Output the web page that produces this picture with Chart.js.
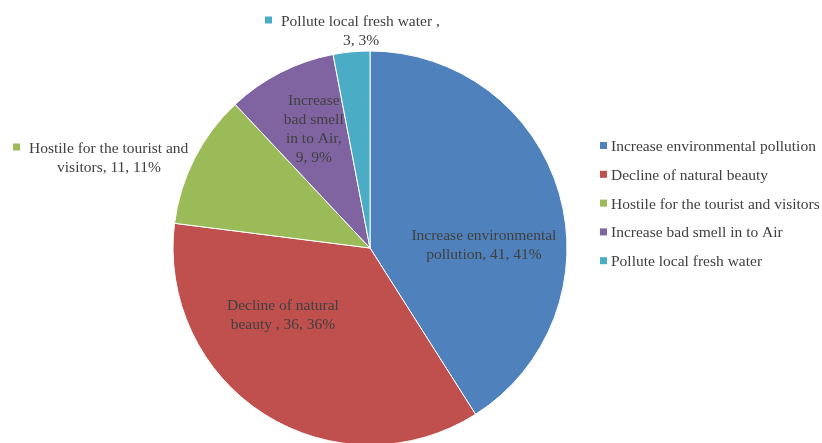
<!DOCTYPE html>
<html>
<head>
<meta charset="utf-8">
<script src="https://cdn.jsdelivr.net/npm/chart.js@4"></script>
<style>
  html, body { margin: 0; padding: 0; background: #fff; }
  #wrap { width: 822px; height: 443px; position: relative; }
</style>
</head>
<body>
<div id="wrap"><canvas id="pieChart" width="822" height="443"></canvas></div>
<script>
const categories = ['Increase environmental pollution', 'Decline of natural beauty', 'Hostile for the tourist and visitors', 'Increase bad smell in to Air', 'Pollute local fresh water'];
const values = [41, 36, 11, 9, 3];
const percents = ['41%', '36%', '11%', '9%', '3%'];
const colours = ['#4F81BD', '#C0504D', '#9BBB59', '#8064A2', '#4BACC6'];

// label lines as they are wrapped in the picture
const labelLines = [
    ['Increase environmental', 'pollution, 41, 41%'],
    ['Decline of natural', 'beauty , 36, 36%'],
    ['Hostile for the tourist and', 'visitors, 11, 11%'],
    ['Increase', 'bad smell', 'in to Air,', '9, 9%'],
    ['Pollute local fresh water ,', '3, 3%']
];

const FONT = '15.5px "Liberation Serif", "Times New Roman", serif';
const TXT = '#404040';
const LH = 19;
const DY = 1.5; // nudge so 'middle' text sits like the reference

const labelsPlugin = {
    id: 'pieLabels',
    afterDatasetsDraw(chart) {
        const ctx = chart.ctx;
        const arcs = chart.getDatasetMeta(0).data;
        ctx.save();
        ctx.font = FONT;
        ctx.fillStyle = TXT;
        ctx.textBaseline = 'middle';
        // inside labels: distance from centre and angle (deg) of the label block
        const inside = {0: [114, -2.3], 1: [109, 143], 3: [133, 245]};
        ctx.textAlign = 'center';
        Object.keys(inside).forEach(k => {
            const i = +k;
            const a = arcs[i];
            const ang = inside[k][1] * Math.PI / 180;
            const cx = a.x + Math.cos(ang) * inside[k][0];
            const cy = a.y + Math.sin(ang) * inside[k][0];
            const n = labelLines[i].length;
            labelLines[i].forEach((t, j) => {
                ctx.fillText(t, cx, cy + DY + (j - (n - 1) / 2) * LH);
            });
        });
        // outside labels with small colour key
        const outside = [
            {i: 2, x: 29, y: 147, cx: 109},
            {i: 4, x: 281, y: 20, cx: 361}
        ];
        outside.forEach(o => {
            const lines = labelLines[o.i];
            ctx.fillStyle = colours[o.i];
            ctx.fillRect(o.x - 16, o.y - 3.5, 7, 7);
            ctx.fillStyle = TXT;
            ctx.textAlign = 'left';
            ctx.fillText(lines[0], o.x, o.y + DY);
            ctx.textAlign = 'center';
            ctx.fillText(lines[1], o.cx, o.y + DY + LH);
        });
        // legend at right
        ctx.textAlign = 'left';
        categories.forEach((c, i) => {
            const y = 145.5 + i * 28.8;
            ctx.fillStyle = colours[i];
            ctx.fillRect(600, y - 3.5, 7, 7);
            ctx.fillStyle = TXT;
            ctx.fillText(c, 611, y + DY);
        });
        ctx.restore();
    }
};

new Chart(document.getElementById('pieChart').getContext('2d'), {
    type: 'pie',
    data: {
        labels: categories,
        datasets: [{
            data: values,
            backgroundColor: colours,
            borderColor: '#ffffff',
            borderWidth: 1
        }]
    },
    options: {
        responsive: false,
        animation: false,
        radius: 197,
        layout: {padding: {left: 0, right: 82, top: 53, bottom: 0}},
        plugins: {legend: {display: false}, tooltip: {enabled: false}}
    },
    plugins: [labelsPlugin]
});
</script>
</body>
</html>
